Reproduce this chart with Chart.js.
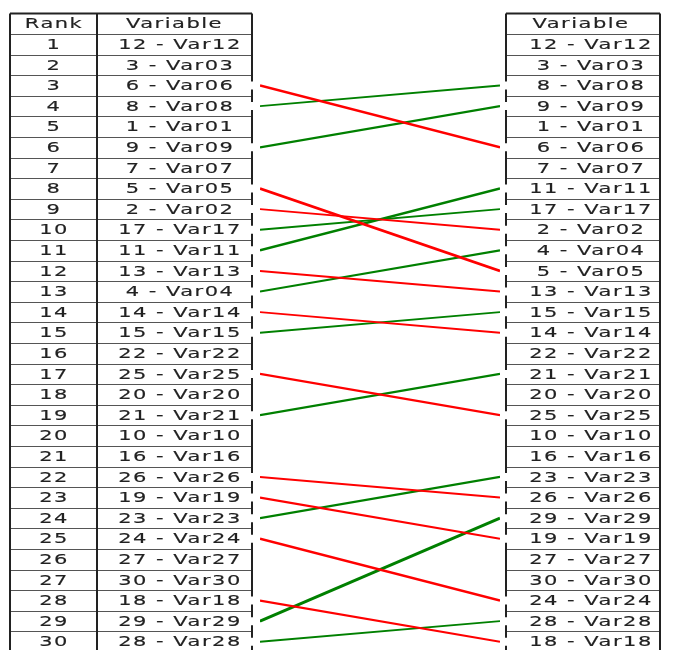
<!DOCTYPE html>
<html>
<head>
<meta charset="utf-8">
<style>
	html, body { margin: 0; padding: 0; background: #fff; }
	#wrap { width: 679px; height: 650px; position: relative; }
</style>
<script src="https://cdn.jsdelivr.net/npm/chart.js@4.4.1/dist/chart.umd.min.js"></script>
</head>
<body>
<div id="wrap"><canvas id="c"></canvas></div>
<script>
/* rank comparison: before (left) and after (right) */
const ranks = [1, 2, 3, 4, 5, 6, 7, 8, 9, 10, 11, 12, 13, 14, 15, 16, 17, 18, 19, 20, 21, 22, 23, 24, 25, 26, 27, 28, 29, 30];
const leftVariables = [
	'12 - Var12', '3 - Var03', '6 - Var06', '8 - Var08', '1 - Var01', '9 - Var09', '7 - Var07', '5 - Var05', '2 - Var02', '17 - Var17',
	'11 - Var11', '13 - Var13', '4 - Var04', '14 - Var14', '15 - Var15', '22 - Var22', '25 - Var25', '20 - Var20', '21 - Var21', '10 - Var10',
	'16 - Var16', '26 - Var26', '19 - Var19', '23 - Var23', '24 - Var24', '27 - Var27', '30 - Var30', '18 - Var18', '29 - Var29', '28 - Var28',
];
const rightVariables = [
	'12 - Var12', '3 - Var03', '8 - Var08', '9 - Var09', '1 - Var01', '6 - Var06', '7 - Var07', '11 - Var11', '17 - Var17', '2 - Var02',
	'4 - Var04', '5 - Var05', '13 - Var13', '15 - Var15', '14 - Var14', '22 - Var22', '21 - Var21', '20 - Var20', '25 - Var25', '10 - Var10',
	'16 - Var16', '23 - Var23', '26 - Var26', '29 - Var29', '19 - Var19', '27 - Var27', '30 - Var30', '24 - Var24', '28 - Var28', '18 - Var18',
];
const headerRank = 'Rank';
const headerVariable = 'Variable';

const RED = '#ff0000';
const GREEN = '#008000';
const INK = '#222';
const GRID = '#555';

// table geometry (pixels)
const LT = { x0: 10, x1: 97, x2: 252, textRank: 54, textVar: 180 };
const RT = { x0: 506, x1: 660, textVar: 591 };

// one line per variable whose rank changed
const datasets = [];
const leftLinked = [];
const rightLinked = [];
leftVariables.forEach((name, i) => {
	const j = rightVariables.indexOf(name);
	if (j < 0 || j === i) {
		return;
	}
	const from = ranks[i];
	const to = ranks[j];
	const d = Math.abs(to - from);
	leftLinked.push(from);
	rightLinked.push(to);
	datasets.push({
		label: name,
		data: [{ x: 0, y: from }, { x: 1, y: to }],
		borderColor: to > from ? RED : GREEN,
		borderWidth: 1.9 + 0.3 * (d - 1),
		pointRadius: 0,
		fill: false,
		tension: 0,
	});
});

function drawText(ctx, str, cx, cy) {
	ctx.save();
	ctx.translate(cx, cy);
	ctx.scale(1.5, 1);
	ctx.fillText(str, 0, 0);
	ctx.strokeText(str, 0, 0);
	ctx.restore();
}

function vline(ctx, x, y0, y1, w) {
	ctx.lineWidth = w;
	ctx.beginPath();
	ctx.moveTo(x, y0);
	ctx.lineTo(x, y1);
	ctx.stroke();
}

// border with small gaps where a line attaches
function gappedLine(ctx, x, top, bottom, linked, yPix, w) {
	const gap = 4;
	const ys = linked.map(r => yPix(r)).sort((a, b) => a - b);
	let cur = top;
	ys.forEach(y => {
		vline(ctx, x, cur, y - gap, w);
		cur = y + gap;
	});
	vline(ctx, x, cur, bottom, w);
}

const tablePlugin = {
	id: 'rankTables',
	beforeDatasetsDraw(chart) {
		const ctx = chart.ctx;
		const y = chart.scales.y;
		const yPix = v => y.getPixelForValue(v);
		const top = yPix(-0.5);
		const bottom = yPix(ranks.length + 0.5);

		ctx.save();
		ctx.strokeStyle = GRID;
		ctx.lineWidth = 1;
		// row separators
		for (let r = 0; r <= ranks.length; r++) {
			const yy = Math.round(yPix(r + 0.5)) + 0.5;
			ctx.beginPath();
			ctx.moveTo(LT.x0, yy);
			ctx.lineTo(LT.x2, yy);
			ctx.moveTo(RT.x0, yy);
			ctx.lineTo(RT.x1, yy);
			ctx.stroke();
		}
		ctx.strokeStyle = '#222';
		ctx.lineWidth = 2;
		ctx.beginPath();
		ctx.moveTo(LT.x0, top);
		ctx.lineTo(LT.x2, top);
		ctx.moveTo(RT.x0, top);
		ctx.lineTo(RT.x1, top);
		ctx.stroke();
		vline(ctx, LT.x0, top, bottom, 2);
		vline(ctx, LT.x1, top, bottom, 2);
		gappedLine(ctx, LT.x2, top, bottom, leftLinked, yPix, 2);
		gappedLine(ctx, RT.x0, top, bottom, rightLinked, yPix, 2);
		vline(ctx, RT.x1, top, bottom, 2);

		// texts
		ctx.fillStyle = INK;
		ctx.strokeStyle = INK;
		ctx.lineWidth = 0.15;
		ctx.font = '14px "DejaVu Sans"';
		ctx.textAlign = 'center';
		ctx.textBaseline = 'middle';
		ctx.letterSpacing = '1px';
		const hy = yPix(0) + 1;
		drawText(ctx, headerRank, LT.textRank, hy);
		drawText(ctx, headerVariable, (LT.x1 + LT.x2) / 2, hy);
		drawText(ctx, headerVariable, (RT.x0 + RT.x1) / 2 - 2, hy);
		ranks.forEach((r, i) => {
			const yy = yPix(r) + 1;
			drawText(ctx, String(r), LT.textRank, yy);
			drawText(ctx, leftVariables[i], LT.textVar, yy);
			drawText(ctx, rightVariables[i], RT.textVar, yy);
		});
		ctx.restore();
	},
};

new Chart(document.getElementById('c').getContext('2d'), {
	type: 'line',
	data: { datasets },
	options: {
		responsive: true,
		maintainAspectRatio: false,
		animation: false,
		layout: { padding: { left: 260, right: 179, top: 13.4, bottom: 0 } },
		plugins: {
			legend: { display: false },
			tooltip: { enabled: false },
		},
		scales: {
			x: { type: 'linear', min: 0, max: 1, display: false },
			y: { type: 'linear', min: -0.5, max: 30.4, reverse: true, display: false },
		},
	},
	plugins: [tablePlugin],
});
</script>
</body>
</html>
